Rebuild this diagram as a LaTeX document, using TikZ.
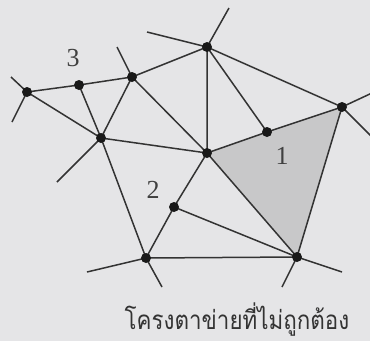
\documentclass[tikz,border=0pt]{standalone}
\usepackage{fontspec}
\setmainfont{Liberation Serif}
\newfontfamily\thaifont[Script=Thai]{Loma}
\definecolor{paper}{RGB}{229,229,231}
\definecolor{elemgray}{RGB}{200,200,201}
\begin{document}
\begin{tikzpicture}[x=1pt,y=-1pt,
  edge/.style={draw=black!80,line width=1.5pt},
  pt/.style={circle,fill=black!90,inner sep=0pt,minimum size=10pt},
  lbl/.style={font=\fontsize{26}{26}\selectfont,text=black!75}]
\useasboundingbox[fill=paper] (0,0) rectangle (370,341);
% nodes
\coordinate (A) at (27,92);
\coordinate (B) at (79,85);
\coordinate (C) at (132,77);
\coordinate (D) at (207,47);
\coordinate (E) at (101,138);
\coordinate (F) at (207,153);
\coordinate (G) at (267,132);
\coordinate (H) at (342,107);
\coordinate (I) at (174,207);
\coordinate (J) at (146,258);
\coordinate (K) at (297,257);
% free ends
\coordinate (A1) at (11,77);
\coordinate (A2) at (12,122);
\coordinate (C1) at (117,47);
\coordinate (D1) at (147,32);
\coordinate (D2) at (229,8);
\coordinate (H1) at (372,93);
\coordinate (H2) at (372,137);
\coordinate (E1) at (57,182);
\coordinate (J1) at (87,272);
\coordinate (J2) at (162,287);
\coordinate (K1) at (282,287);
\coordinate (K2) at (342,272);
% shaded element
\fill[elemgray] (F) -- (G) -- (H) -- (K) -- cycle;
% edges
\path[edge] (A) -- (B) (B) -- (C) (C) -- (D) (A) -- (E) (B) -- (E) (C) -- (E)
  (C) -- (F) (D) -- (F) (D) -- (G) (D) -- (H) (E) -- (F) (E) -- (J)
  (F) -- (G) (G) -- (H) (F) -- (I) (F) -- (K) (H) -- (K) (I) -- (J)
  (I) -- (K) (J) -- (K);
\path[edge] (A) -- (A1) (A) -- (A2) (C) -- (C1) (D) -- (D1) (D) -- (D2)
  (H) -- (H1) (H) -- (H2) (E) -- (E1) (J) -- (J1) (J) -- (J2)
  (K) -- (K1) (K) -- (K2);
% points
\foreach \n in {A,B,C,D,E,F,G,H,I,J,K} \node[pt] (p\n) at (\n) {};
% labels
\node[lbl] (l3) at (73,58) {3};
\node[lbl] (l2) at (153,190) {2};
\node[lbl] (l1) at (282,156) {1};
\node[font=\thaifont\fontsize{26}{26}\selectfont,text=black!80,anchor=base,inner sep=0pt] (cap) at (237,329) {\scalebox{0.86}[1]{โครงตาข่ายที่ไม่ถูกต้อง}};
\end{tikzpicture}
\end{document}
